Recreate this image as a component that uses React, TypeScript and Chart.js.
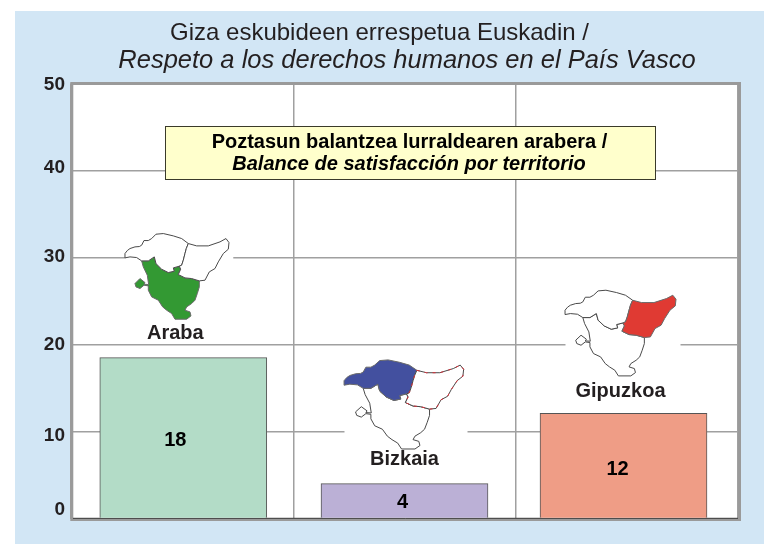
import React, { useEffect, useRef } from "react";
import { Chart, registerables } from "chart.js";

Chart.register(...registerables);

// ---- data ----
const categories = ["Araba", "Bizkaia", "Gipuzkoa"];
const barHeights = [18.5, 4, 12.1];
const printedValues = ["18", "4", "12"];
const barSlots = [0.505, 1.5, 2.485];
const yTicks = [0, 10, 20, 30, 40, 50];
const titleLines = ["Giza eskubideen errespetua Euskadin /", "Respeto a los derechos humanos en el País Vasco"];
const noteLines = ["Poztasun balantzea lurraldearen arabera /", "Balance de satisfacción por territorio"];

// ---- styles ----
const FONT = '"Liberation Sans", Arial, sans-serif';
const PANEL = "#d2e6f5";
const INK = "#231f20";
const GRID = "#a0a0a0";
const barColors = ["#b3dcc7", "#bbb0d6", "#ef9d86"];
const regionColors = ["#339933", "#43509f", "#e03a33"];
const tickNudge: Record<number, number> = { 50: 1.5, 40: -3, 30: -1, 20: 0, 10: 4, 0: -8.5 };

// map outline, in local units of the drawing (1/3 px)
const bizkaiaShape = [[15,75],[22,66],[30,60],[45,55],[58,54],[65,50],[72,36],[85,36],[95,30],[108,17],[130,15],[160,22],[185,30],[205,45],[199,60],[195,75],[190,95],[185,110],[178,113],[160,118],[163,128],[145,132],[125,122],[108,105],[103,85],[85,97],[65,97],[50,87],[30,85],[15,88]];
const arabaShape = [[65,97],[85,97],[103,85],[108,105],[125,122],[145,132],[163,128],[160,118],[178,113],[182,122],[175,138],[195,148],[215,150],[238,157],[238,175],[232,195],[225,215],[215,225],[200,235],[195,245],[210,250],[213,262],[200,272],[165,272],[155,255],[140,245],[128,235],[115,215],[95,205],[85,185],[85,172],[72,170],[60,180],[48,175],[45,165],[60,150],[75,162],[72,167],[86,168],[82,140],[70,115]];
const gipuzkoaShape = [[205,45],[230,52],[265,52],[300,40],[318,30],[327,42],[325,62],[310,75],[295,100],[285,120],[268,130],[255,155],[238,157],[215,150],[195,148],[175,138],[182,122],[178,113],[185,110],[190,95],[195,75],[199,60]];
const regionShapes = [arabaShape, bizkaiaShape, gipuzkoaShape];

// per map: placement relative to its bar (centre x, top y), stretch, white clearing
const mapPlacing = [
  { dx: -63.3, dy: -129, sx: 1, sy: 1, clear: [-58, 50] },
  { dx: -66.2, dy: -129, sx: 1.15, sy: 1.04, clear: [-60, 63] },
  { dx: -63.8, dy: -128, sx: 1.067, sy: 1, clear: [-58, 57] },
];
const nameOffset = [[-8, -24], [0, -24], [-3, -22]];
const valueOffset = [[-8, 2], [-2, 1], [-6, 4]];

function App() {
  const ref = useRef<HTMLCanvasElement>(null);
  useEffect(() => {
    const paint = {
      id: "paint",
      beforeDraw(chart: any) {
        const { ctx, chartArea: a } = chart;
        ctx.save();
        ctx.fillStyle = "#ffffff";
        ctx.fillRect(0, 0, chart.width, chart.height);
        ctx.fillStyle = PANEL;
        ctx.fillRect(15, 11, chart.width - 15, chart.height - 11);
        ctx.fillStyle = "#ffffff";
        ctx.fillRect(a.left, a.top, a.right - a.left, a.bottom - a.top);
        ctx.restore();
        const y = chart.scales.y;
        y.getLabelItems(a).forEach((it: any) => {
          it.options.translation[1] += tickNudge[Number(it.label)] ?? 0;
        });
      },
      beforeDatasetsDraw(chart: any) {
        const { ctx, chartArea: a } = chart;
        const xs = chart.scales.x;
        const ys = chart.scales.y;
        ctx.save();
        // clear gridlines behind each map
        categories.forEach((_, i) => {
          const p = mapPlacing[i];
          const cx = xs.getPixelForValue(barSlots[i]);
          const top = ys.getPixelForValue(barHeights[i]);
          ctx.fillStyle = "#ffffff";
          ctx.fillRect(cx + p.clear[0], top + p.dy, p.clear[1] - p.clear[0], 112);
        });
        // frame
        ctx.strokeStyle = "#9a9a9a";
        ctx.lineWidth = 3;
        ctx.strokeRect(a.left + 0.8, a.top, a.right - a.left + 0.7, a.bottom - a.top + 1);
        ctx.strokeStyle = "#3a3a3a";
        ctx.lineWidth = 1;
        ctx.beginPath();
        ctx.moveTo(a.left + 2, a.bottom - 0.2);
        ctx.lineTo(a.right, a.bottom - 0.2);
        ctx.stroke();
        // note box
        ctx.fillStyle = "#ffffcc";
        ctx.strokeStyle = "#3a3a2a";
        ctx.fillRect(165.5, 126.5, 490, 53);
        ctx.strokeRect(165.5, 126.5, 490, 53);
        ctx.restore();
      },
      afterDraw(chart: any) {
        const { ctx } = chart;
        const xs = chart.scales.x;
        const ys = chart.scales.y;
        const put = (t: string, x: number, y: number, font: string) => {
          ctx.font = `${font} ${FONT}`;
          ctx.fillText(t, x, y);
        };
        ctx.save();
        ctx.textAlign = "center";
        ctx.textBaseline = "middle";
        ctx.fillStyle = INK;
        put(titleLines[0], 379.5, 33, "24px");
        put(titleLines[1], 407, 61, "italic 25.5px");
        ctx.fillStyle = "#000000";
        put(noteLines[0], 409.5, 142, "bold 20px");
        put(noteLines[1], 409, 164, "italic bold 20px");
        categories.forEach((name, i) => {
          const cx = xs.getPixelForValue(barSlots[i]);
          const top = ys.getPixelForValue(barHeights[i]);
          const mid = ys.getPixelForValue(barHeights[i] / 2);
          // map
          const p = mapPlacing[i];
          const ox = cx + p.dx;
          const oy = top + p.dy;
          const trace = (shape: number[][]) => {
            ctx.beginPath();
            shape.forEach(([u, v], k) => {
              const px = ox + (u / 3) * p.sx;
              const py = oy + (v / 3) * p.sy;
              if (k === 0) ctx.moveTo(px, py);
              else ctx.lineTo(px, py);
            });
            ctx.closePath();
          };
          regionShapes.forEach((s, r) => {
            trace(s);
            ctx.fillStyle = r === i ? regionColors[r] : "#ffffff";
            ctx.fill();
            ctx.strokeStyle = r === i ? "#6a6a6a" : "#4a4a4a";
            ctx.lineWidth = 1;
            ctx.stroke();
            if (i === 1 && r === 2) {
              ctx.strokeStyle = "#d8303a";
              ctx.setLineDash([3, 5]);
              ctx.stroke();
              ctx.setLineDash([]);
            }
          });
          // texts
          ctx.fillStyle = INK;
          put(name, cx + nameOffset[i][0], top + nameOffset[i][1], "bold 20px");
          ctx.fillStyle = "#000000";
          put(printedValues[i], cx + valueOffset[i][0], mid + valueOffset[i][1], "bold 20px");
        });
        ctx.restore();
      },
    };

    const chart = new Chart(ref.current as HTMLCanvasElement, {
      type: "bar",
      data: {
        datasets: [
          {
            data: categories.map((_, i) => ({ x: barSlots[i], y: barHeights[i] })),
            backgroundColor: barColors,
            borderColor: "#555555",
            borderWidth: 1,
            barThickness: 167,
          },
        ],
      },
      options: {
        responsive: false,
        animation: false,
        layout: { padding: { left: 0, top: 83.5, right: 26, bottom: 25.5 } },
        plugins: { legend: { display: false }, title: { display: false }, tooltip: { enabled: false } },
        scales: {
          x: {
            type: "linear",
            min: 0,
            max: 3,
            offset: false,
            border: { display: false },
            grid: { color: GRID, lineWidth: 1.5, drawTicks: false, offset: false },
            ticks: { display: false, stepSize: 1 },
          },
          y: {
            min: 0,
            max: 50,
            border: { display: false },
            afterFit: (s: any) => {
              s.width = 71;
            },
            afterBuildTicks: (s: any) => {
              s.ticks = yTicks.map((value) => ({ value }));
            },
            grid: { color: GRID, lineWidth: 1.5, drawTicks: false },
            ticks: {
              color: INK,
              padding: 6,
              font: { family: FONT, size: 19, weight: "bold" },
            },
          },
        },
      },
      plugins: [paint],
    } as any);
    return () => chart.destroy();
  }, []);
  return <canvas ref={ref} width={764} height={544} style={{ position: "absolute", left: 0, top: 0, display: "block" }} />;
}

export default App;
